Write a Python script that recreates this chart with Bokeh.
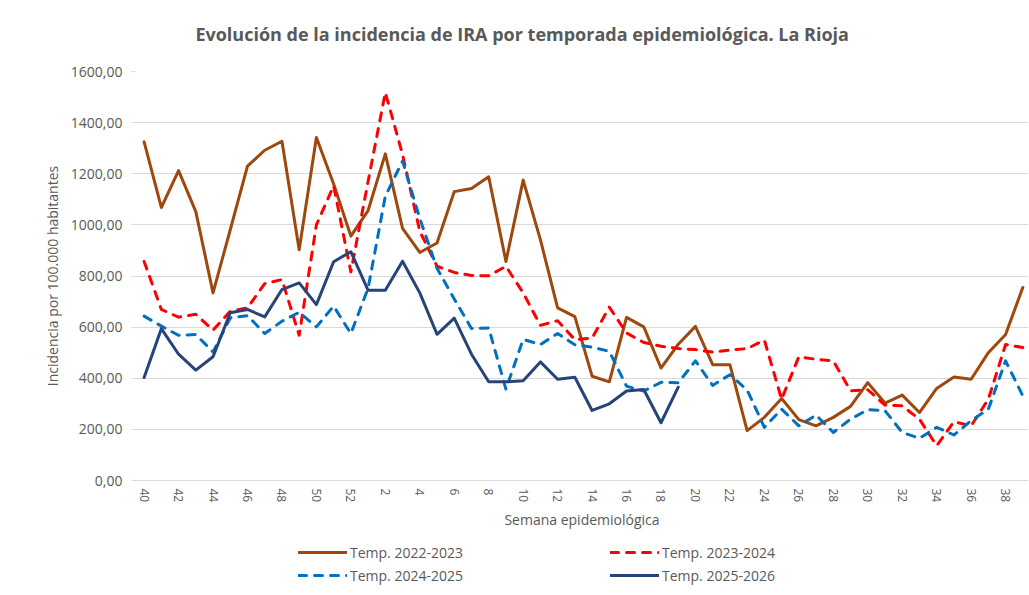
import math
from bokeh.plotting import figure
from bokeh.layouts import column
from bokeh.models import FixedTicker, Legend, LegendItem, Label
from bokeh.embed import file_html
from bokeh.resources import INLINE

# ---- data ----
weeks = [40, 41, 42, 43, 44, 45, 46, 47, 48, 49, 50, 51, 52,
         1, 2, 3, 4, 5, 6, 7, 8, 9, 10, 11, 12, 13, 14, 15, 16, 17, 18, 19,
         20, 21, 22, 23, 24, 25, 26, 27, 28, 29, 30, 31, 32, 33, 34, 35, 36, 37, 38, 39]

temp_2022_2023 = [1325, 1068, 1212, 1052, 734, 981, 1230, 1292, 1327, 903, 1342, 1160, 956,
                  1056, 1278, 986, 892, 929, 1130, 1142, 1188, 857, 1175, 942, 675, 641,
                  408, 386, 638, 601, 440, 533, 603, 453, 453, 195, 247, 321, 238, 214,
                  247, 290, 383, 303, 334, 266, 360, 405, 396, 500, 571, 755]

temp_2023_2024 = [857, 669, 639, 650, 588, 662, 675, 770, 786, 568, 1000, 1153, 816,
                  1170, 1518, 1275, 975, 838, 814, 802, 801, 838, 734, 607, 625, 551,
                  557, 678, 577, 540, 525, 516, 512, 502, 510, 516, 549, 318, 484, 474,
                  468, 351, 355, 295, 292, 240, 136, 230, 214, 318, 532, 520]

temp_2024_2025 = [643, 604, 568, 571, 503, 636, 645, 575, 623, 658, 601, 682, 575,
                  752, 1112, 1250, 1025, 830, 710, 595, 597, 357, 552, 532, 575, 531,
                  522, 505, 369, 350, 384, 382, 468, 372, 414, 354, 208, 279, 214, 256,
                  188, 240, 277, 273, 188, 165, 208, 178, 234, 279, 468, 331]

temp_2025_2026 = [403, 594, 494, 432, 484, 656, 669, 640, 747, 773, 688, 856, 895,
                  744, 744, 858, 734, 572, 635, 494, 386, 386, 390, 464, 396, 404,
                  274, 300, 350, 356, 226, 365]

series_labels = ["Temp. 2022-2023", "Temp. 2023-2024", "Temp. 2024-2025", "Temp. 2025-2026"]
y_ticks = [0, 200, 400, 600, 800, 1000, 1200, 1400, 1600]
title_text = "Evolución de la incidencia de IRA por temporada epidemiológica.  La Rioja"

FONT = "Open Sans"
GRAY = "#595959"
COLORS = ["#9E480E", "#FF0000", "#0070C0", "#264478"]
DASHES = ["solid", "8 8", "8 8", "solid"]

# ---- title strip ----
tf = figure(width=1028, height=55, output_backend="svg", toolbar_location=None,
            x_axis_type=None, y_axis_type=None, x_range=(0, 1), y_range=(0, 1),
            min_border_left=135, min_border_right=0, min_border_top=0, min_border_bottom=0)
tf.outline_line_color = None
tf.grid.grid_line_color = None
tf.add_layout(Label(x=389, y=22, x_units="screen", y_units="screen", text=title_text,
                    text_align="center", text_baseline="middle", text_font=FONT,
                    text_font_size="18px", text_font_style="bold", text_color=GRAY))

# ---- main chart ----
p = figure(width=1028, height=477, output_backend="svg", toolbar_location=None,
           x_range=(-0.5, 51.33), y_range=(0, 1600),
           min_border_left=135, min_border_right=0, min_border_top=16, min_border_bottom=50)
p.outline_line_color = None
p.background_fill_color = "white"
p.border_fill_color = "white"

idx = list(range(len(weeks)))
xa = p.xaxis[0]
xa.ticker = FixedTicker(ticks=idx[::2])
xa.major_label_overrides = {i: str(weeks[i]) for i in idx[::2]}
xa.major_label_orientation = -math.pi / 2
xa.major_label_text_font = FONT
xa.major_label_text_font_size = "12px"
xa.major_label_text_color = GRAY
xa.major_label_standoff = 8
xa.major_tick_out = 0
xa.major_tick_in = 0
xa.minor_tick_out = 0
xa.minor_tick_in = 0
xa.axis_line_color = "#d9d9d9"
xa.axis_label = "Semana epidemiológica"
xa.axis_label_text_font = FONT
xa.axis_label_text_font_size = "14px"
xa.axis_label_text_font_style = "normal"
xa.axis_label_text_color = GRAY
xa.axis_label_standoff = 5

ya = p.yaxis[0]
ya.ticker = FixedTicker(ticks=y_ticks)
ya.major_label_overrides = {v: f"{v},00" for v in y_ticks}
ya.major_label_text_font = FONT
ya.major_label_text_font_size = "14px"
ya.major_label_text_color = GRAY
ya.major_label_standoff = 9
ya.major_tick_out = 4
ya.major_tick_in = 0
ya.major_tick_line_color = "#d9d9d9"
ya.minor_tick_out = 0
ya.minor_tick_in = 0
ya.axis_line_color = None
ya.axis_label = "Incidencia por 100.000 habitantes"
ya.axis_label_text_font = FONT
ya.axis_label_text_font_size = "14px"
ya.axis_label_text_font_style = "normal"
ya.axis_label_text_color = GRAY
ya.axis_label_standoff = 6

p.xgrid.grid_line_color = None
p.ygrid.grid_line_color = "#d9d9d9"
p.ygrid.grid_line_width = 1

all_series = [temp_2022_2023, temp_2023_2024, temp_2024_2025, temp_2025_2026]
for vals, col, dash in zip(all_series, COLORS, DASHES):
    p.line(list(range(len(vals))), vals, line_color=col, line_width=3, line_dash=dash,
           line_cap="round", line_join="round")

# ---- legend strip ----
lf = figure(width=1028, height=58, output_backend="svg", toolbar_location=None,
            x_axis_type=None, y_axis_type=None, x_range=(0, 1), y_range=(0, 1),
            min_border_left=135, min_border_right=0, min_border_top=0, min_border_bottom=0)
lf.outline_line_color = None
lf.grid.grid_line_color = None
nan = float("nan")
dummy = []
for col, dash in zip(COLORS, DASHES):
    dummy.append(lf.line([nan, nan], [nan, nan], line_color=col, line_width=3,
                         line_dash=dash, line_cap="round"))


def make_legend(items, x):
    lg = Legend(items=items, location=(x, 5), orientation="vertical")
    lg.padding = 0
    lg.margin = 0
    lg.spacing = 3
    lg.border_line_color = None
    lg.background_fill_alpha = 0
    lg.glyph_width = 49
    lg.glyph_height = 20
    lg.label_height = 20
    lg.label_standoff = 3
    lg.label_text_font = FONT
    lg.label_text_font_size = "14px"
    lg.label_text_color = GRAY
    return lg


leg1 = make_legend([LegendItem(label=series_labels[0], renderers=[dummy[0]]),
                    LegendItem(label=series_labels[2], renderers=[dummy[2]])], 163)
leg2 = make_legend([LegendItem(label=series_labels[1], renderers=[dummy[1]]),
                    LegendItem(label=series_labels[3], renderers=[dummy[3]])], 475)
lf.add_layout(leg1)
lf.add_layout(leg2)

layout = column(tf, p, lf, spacing=0)
open("out.html", "w").write(file_html(layout, INLINE))
